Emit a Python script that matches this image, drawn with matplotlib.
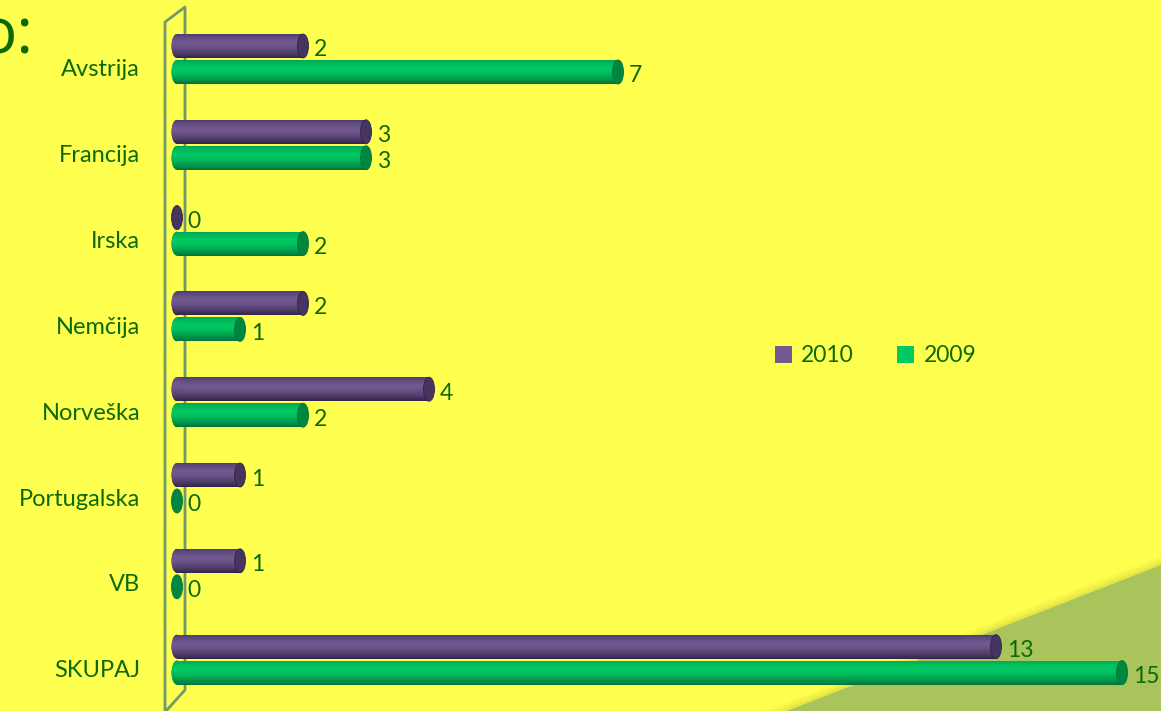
import numpy as np
import matplotlib
matplotlib.use("Agg")
import matplotlib.pyplot as plt
from matplotlib.patches import Ellipse, Polygon, Patch
from matplotlib.colors import to_rgb

# data
countries = ["Avstrija", "Francija", "Irska", "Nemčija", "Norveška", "Portugalska", "VB", "SKUPAJ"]
vals_2010 = [2, 3, 0, 2, 4, 1, 1, 13]
vals_2009 = [7, 3, 2, 1, 2, 0, 0, 15]
series = ["2010", "2009"]

W, H = 1161, 711
BG = "#FFFF4F"
TXT = "#0a6a0a"

# colours: (top edge, middle, bottom edge, end cap)
purple = ("#4b3a6c", "#72598f", "#32244a", "#45355f")
green = ("#00a452", "#00c862", "#00743a", "#00873f")

fig = plt.figure(figsize=(W / 100, H / 100), dpi=100, facecolor=BG)

# pixel helpers for the decorations
def px(x, y):
    return (x / W, 1 - y / H)

# green triangle in the lower right corner, with a soft shadow edge
for off, a in [(9, 0.10), (6, 0.15), (3, 0.25)]:
    fig.patches.append(Polygon([px(787 - off * 2.5, 711), px(1161, 565 - off), px(1161, 711)],
                               closed=True, transform=fig.transFigure,
                               facecolor="#c8c83a", alpha=a, edgecolor="none", zorder=0))
fig.patches.append(Polygon([px(787, 711), px(1161, 565), px(1161, 711)], closed=True,
                           transform=fig.transFigure, facecolor="#a9c45a",
                           edgecolor="none", zorder=0))

# the 3d wall at the value axis
wall = [px(165, 711), px(165, 22), px(185, 7), px(185, 690), px(166, 711)]
xs, ys = zip(*wall)
fig.add_artist(plt.Line2D(xs, ys, transform=fig.transFigure, color="#6e9a6e", lw=2, zorder=1))

ax = fig.add_axes([0, 0, 1, 1])
ax.set_zorder(3)
ax.set_facecolor("none")
ax.set_axis_off()

sx = 63.0      # px per unit
x0 = 177.0     # px of value 0
sy = 85.8      # px per category
y0 = 59.0      # px of first category pair centre
xlim = (-x0 / sx, (W - x0) / sx)
ylim = ((H - y0) / sy, -y0 / sy)

bh = 24 / sy
cap = 11 / sx


def gradient(cols):
    t, m, b = [np.array(to_rgb(c)) for c in cols[:3]]
    n = 40
    rows = []
    for k in range(n):
        f = k / (n - 1)
        if f < 0.35:
            c = t + (m - t) * (f / 0.35) ** 0.6
        else:
            c = m + (b - m) * ((f - 0.35) / 0.65) ** 1.6
        rows.append(c)
    return np.array(rows).reshape(n, 1, 3)


def cylinder(yc, v, cols):
    top = yc - bh / 2
    bot = yc + bh / 2
    grad = gradient(cols)
    if v > 0:
        bar = ax.barh(yc, v, height=bh, left=0, color=cols[1], edgecolor="none", zorder=2)[0]
        im = ax.imshow(grad, extent=[0, v, bot, top], aspect="auto", zorder=3, interpolation="bilinear")
        im.set_clip_path(bar)
        lcap = Ellipse((0, yc), cap, bh, facecolor=cols[1], edgecolor="none", zorder=2)
        ax.add_patch(lcap)
        im2 = ax.imshow(grad, extent=[-cap, cap, bot, top], aspect="auto", zorder=3, interpolation="bilinear")
        im2.set_clip_path(lcap)
    ax.add_patch(Ellipse((v, yc), cap, bh, facecolor=cols[3], edgecolor=cols[2], lw=0.6, zorder=4))


for i, name in enumerate(countries):
    yp = i - 0.5 * bh - 1 / sy
    yg = i + 0.5 * bh + 1 / sy
    cylinder(yp, vals_2010[i], purple)
    cylinder(yg, vals_2009[i], green)
    ax.text(vals_2010[i] + 0.17, yp + 4 / sy, str(vals_2010[i]), color=TXT, fontsize=16.5,
            family="Lato", ha="left", va="center", zorder=5)
    ax.text(vals_2009[i] + 0.17, yg + 4 / sy, str(vals_2009[i]), color=TXT, fontsize=16.5,
            family="Lato", ha="left", va="center", zorder=5)
    ax.text(-37 / sx, i + 11 / sy, name, color=TXT, fontsize=17, family="Lato",
            ha="right", va="center", zorder=5)

ax.set_xlim(*xlim)
ax.set_ylim(*ylim)

handles = [Patch(facecolor=purple[1], edgecolor="none"), Patch(facecolor=green[1], edgecolor="none")]
leg = fig.legend(handles, series, loc="center left", bbox_to_anchor=(754 / W, 1 - 356 / H),
                 ncol=2, frameon=False, handlelength=0.75, handleheight=0.75,
                 handletextpad=0.4, columnspacing=1.9, prop={"family": "Lato", "size": 16.5})
for t in leg.get_texts():
    t.set_color(TXT)

# cut-off title at the top left
fig.text(33 / W, 1 - 36 / H, "o:", color="#0a6a0a", fontsize=46, family="Open Sans",
         ha="right", va="center")

fig.savefig("out.png", dpi=100, facecolor=BG)
